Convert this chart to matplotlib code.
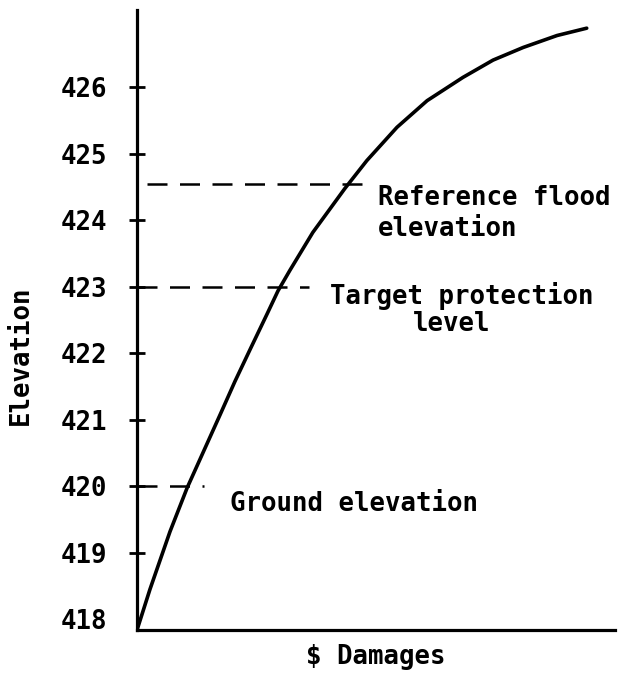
import numpy as np
import matplotlib.pyplot as plt

# curve (x = share of the damage axis, y = elevation)
damage = [0.0, 0.027, 0.069, 0.105, 0.142, 0.174, 0.205, 0.238, 0.272, 0.295, 0.320,
          0.368, 0.435, 0.481, 0.544, 0.607, 0.682, 0.745, 0.808, 0.879, 0.941]
elev = [417.84, 418.45, 419.32, 419.98, 420.57, 421.08, 421.58, 422.08, 422.59, 422.94, 423.25,
        423.82, 424.48, 424.90, 425.40, 425.80, 426.15, 426.41, 426.60, 426.78, 426.89]

yticks = [418, 419, 420, 421, 422, 423, 424, 425, 426]

# reference levels: elevation, dash start, dash end
levels = [424.55, 423.0, 420.0]
dash_start = [0.02, 0.0, 0.0]
dash_end = [0.47, 0.36, 0.14]

labels = ['Reference flood', 'elevation', 'Target protection', 'level', 'Ground elevation']
label_x = [0.504, 0.504, 0.404, 0.577, 0.195]
label_y = [424.34, 423.87, 422.86, 422.44, 419.74]

plt.rcParams['font.family'] = ['DejaVu Sans Mono']
plt.rcParams['font.weight'] = 'bold'

fig = plt.figure(figsize=(6.18, 6.82), dpi=100)
ax = fig.add_axes([0.2217, 0.0762, 0.7733, 0.9088])

ax.plot(damage, elev, color='black', lw=2.6, solid_capstyle='round', solid_joinstyle='round')
for lv, a, b in zip(levels, dash_start, dash_end):
    ax.plot([a, b], [lv, lv], color='black', lw=1.8, dashes=(8, 5))

for t, x, y in zip(labels, label_x, label_y):
    ax.text(x, y, t, fontsize=18.5, fontweight='bold', ha='left', va='center')

ax.set_xlim(0, 1)
ax.set_ylim(417.84, 427.16)
ax.set_xticks([])
ax.set_yticks(yticks, labels=[str(v) for v in yticks])
ax.tick_params(axis='y', direction='inout', length=11, width=2, pad=16, labelsize=18.5)
ax.yaxis.get_major_ticks()[0].tick1line.set_visible(False)

for s in ['top', 'right']:
    ax.spines[s].set_visible(False)
for s in ['left', 'bottom']:
    ax.spines[s].set_linewidth(2.3)

ax.set_xlabel('\\$ Damages', fontsize=18.5, fontweight='bold', labelpad=10)
ax.set_ylabel('Elevation', fontsize=18.5, fontweight='bold')
ax.yaxis.set_label_coords(-0.215, 0.444)

plt.savefig('out.png', dpi=100)
